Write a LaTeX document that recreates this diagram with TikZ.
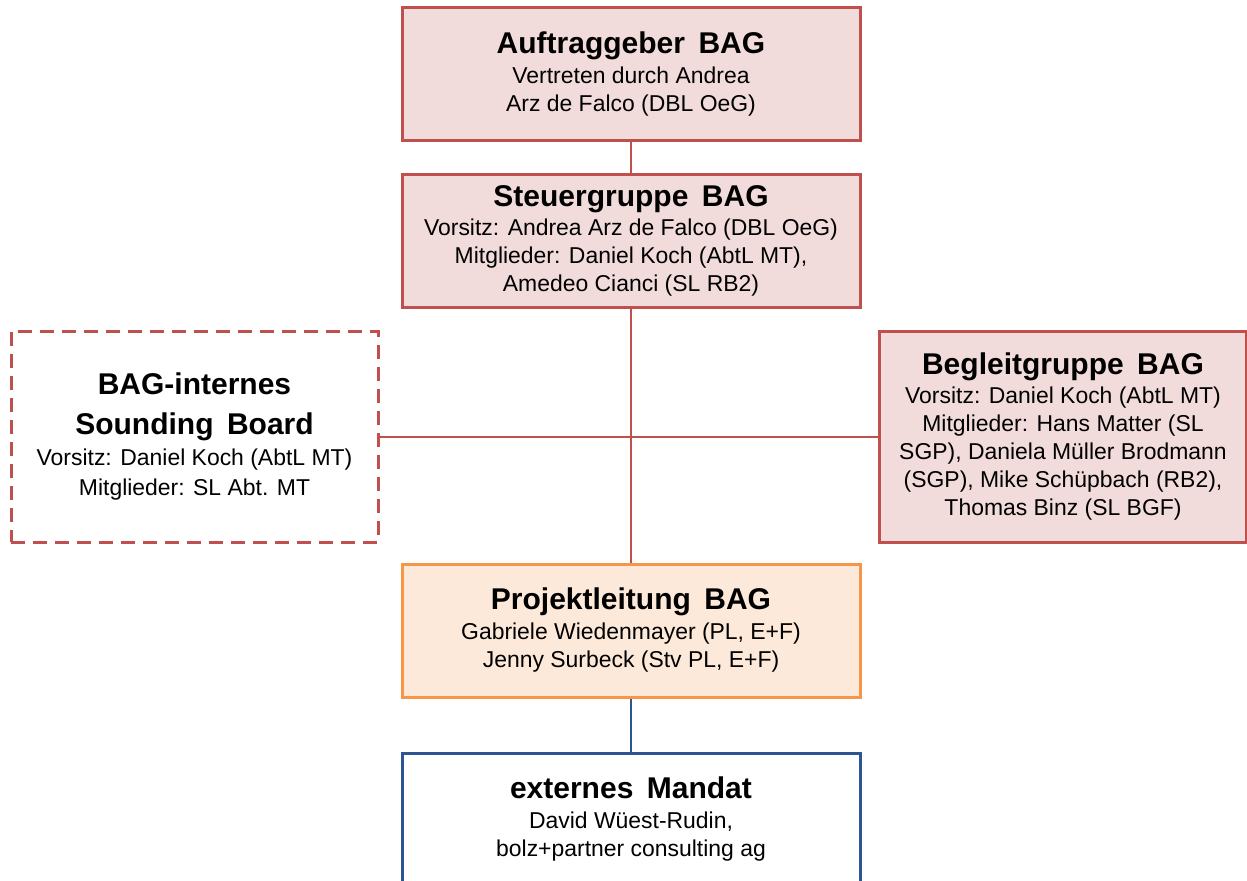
\documentclass[tikz,border=0pt]{standalone}
\usepackage{fontspec}
\setmainfont{Liberation Sans}
\definecolor{bagred}{HTML}{C0504D}
\definecolor{bagpink}{HTML}{F2DCDB}
\definecolor{plorange}{HTML}{F79646}
\definecolor{plfill}{HTML}{FDE9D9}
\definecolor{extblue}{HTML}{2C5592}
\newcommand{\boxtitle}[1]{{\fontsize{22.5}{21}\selectfont\bfseries #1}}
\newcommand{\wsp}{\hspace{0.45em}}
\begin{document}
\begin{tikzpicture}[x=0.75pt, y=-0.75pt,
	orgbox/.style={draw=bagred, fill=bagpink, line width=2.25pt, align=center,
		minimum width=343.5pt, minimum height=99.75pt, inner sep=0pt,
		font=\fontsize{17.2}{21}\selectfont},
	sidebox/.style={orgbox, minimum width=275.25pt, minimum height=158.25pt},
	link/.style={draw=bagred, line width=1.5pt}]
	\useasboundingbox (0,0) rectangle (1247,881);
	\clip (0,0) rectangle (1247,881);

	% --- obere Ebene ---
	\node[orgbox] (auftrag) at (631,74.5) {\boxtitle{Auftraggeber\wsp BAG}\\[1.5pt]
		Vertreten durch Andrea\\ Arz de Falco (DBL OeG)};
	\node[orgbox] (steuer) at (631,241) {\boxtitle{Steuergruppe\wsp BAG}\\[1pt]
		Vorsitz: Andrea Arz de Falco (DBL OeG)\\
		Mitglieder: Daniel Koch (AbtL MT),\\ Amedeo Cianci (SL RB2)};

	% --- Seitengremien ---
	\node[sidebox, fill=white, dash pattern=on 10.5pt off 6pt] (sounding) at (194.5,436.5)
		{\boxtitle{BAG-internes}\\[9pt] \boxtitle{Sounding\wsp Board}\\[2pt]
		Vorsitz: Daniel Koch (AbtL MT)\\[1.5pt] Mitglieder: SL Abt. MT};
	\node[sidebox] (begleit) at (1063,436.5) {\boxtitle{Begleitgruppe\wsp BAG}\\[1pt]
		Vorsitz: Daniel Koch (AbtL MT)\\ Mitglieder: Hans Matter (SL\\
		SGP), Daniela Müller Brodmann\\ (SGP), Mike Schüpbach (RB2),\\
		Thomas Binz (SL BGF)};

	% --- Projektleitung und Mandat ---
	\node[orgbox, draw=plorange, fill=plfill] (projekt) at (631,630.5)
		{\boxtitle{Projektleitung\wsp BAG}\\[1.5pt]
		Gabriele Wiedenmayer (PL, E+F)\\ Jenny Surbeck (Stv PL, E+F)};
	\node[orgbox, draw=extblue, fill=white] (mandat) at (631,819.5)
		{\boxtitle{externes\wsp Mandat}\\[1.5pt]
		David Wüest-Rudin,\\ bolz+partner consulting ag};

	% Verbindungen
	\draw[link] (auftrag.south) -- (steuer.north);
	\draw[link] (steuer.south) -- (projekt.north);
	\draw[link] (sounding.east) -- (begleit.west);
	\draw[link, draw=extblue] (projekt.south) -- (mandat.north);
\end{tikzpicture}
\end{document}
